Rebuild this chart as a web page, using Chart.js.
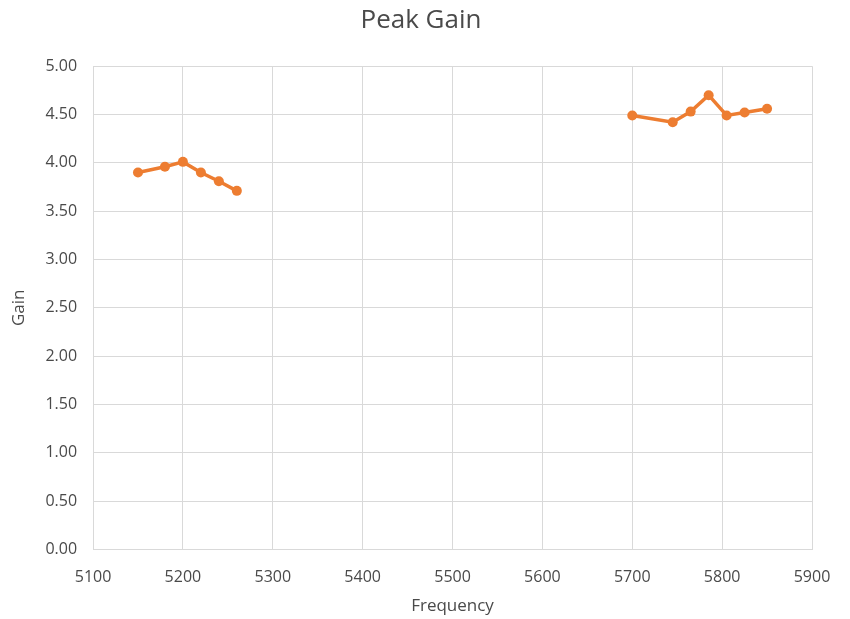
<!DOCTYPE html>
<html>
<head>
<meta charset="utf-8">
<script src="https://cdn.jsdelivr.net/npm/chart.js@4"></script>
<style>
  html, body { margin: 0; padding: 0; background: #fff; }
  #wrap { width: 850px; height: 619px; }
</style>
</head>
<body>
<div id="wrap"><canvas id="chart"></canvas></div>
<script>
// Peak gain vs frequency, two bands
const lowFreq = [5150, 5180, 5200, 5220, 5240, 5260];
const lowGain = [3.90, 3.96, 4.01, 3.90, 3.81, 3.71];
const highFreq = [5700, 5745, 5765, 5785, 5805, 5825, 5850];
const highGain = [4.49, 4.42, 4.53, 4.70, 4.49, 4.52, 4.56];

const orange = "#ED7D31";
const textColor = "#4a4a4a";
const gridColor = "#d9d9d9";
const fontFamily = "'Open Sans', 'Liberation Sans', sans-serif";

function toPoints(xs, ys) {
  return xs.map((x, i) => ({ x: x, y: ys[i] }));
}

function band(label, xs, ys) {
  return {
    label: label,
    data: toPoints(xs, ys),
    borderColor: orange,
    backgroundColor: orange,
    borderWidth: 3.5,
    pointRadius: 5,
    pointBorderWidth: 0,
    pointBackgroundColor: orange,
    fill: false,
    tension: 0,
  };
}

const ctx = document.getElementById("chart").getContext("2d");
new Chart(ctx, {
  type: "line",
  data: {
    datasets: [band("5 GHz low", lowFreq, lowGain), band("5 GHz high", highFreq, highGain)],
  },
  options: {
    responsive: true,
    maintainAspectRatio: false,
    animation: false,
    layout: { padding: { left: 6, right: 14, top: 5, bottom: 3 } },
    plugins: {
      legend: { display: false },
      tooltip: { enabled: false },
      title: {
        display: true,
        text: "Peak Gain",
        color: textColor,
        font: { family: fontFamily, size: 26, weight: "normal" },
        padding: { top: 0, bottom: 30 },
      },
    },
    scales: {
      x: {
        type: "linear",
        min: 5100,
        max: 5900,
        grid: { color: gridColor, drawTicks: false },
        border: { color: gridColor },
        ticks: {
          stepSize: 100,
          color: textColor,
          padding: 18,
          font: { family: fontFamily, size: 16 },
          callback: (v) => String(v),
        },
        title: {
          display: true,
          text: "Frequency",
          color: textColor,
          font: { family: fontFamily, size: 17 },
          padding: { top: -9, bottom: 0 },
        },
        afterFit: (scale) => {
          // keep the plot's right edge in from the canvas edge
          scale.paddingRight = 38;
        },
      },
      y: {
        min: 0,
        max: 5,
        grid: { color: gridColor, drawTicks: false },
        border: { color: gridColor },
        ticks: {
          stepSize: 0.5,
          color: textColor,
          padding: 16,
          font: { family: fontFamily, size: 16 },
          callback: (v) => v.toFixed(2),
        },
        title: {
          display: true,
          text: "Gain",
          color: textColor,
          font: { family: fontFamily, size: 17 },
          padding: { top: 3, bottom: 0 },
        },
      },
    },
  },
});
</script>
</body>
</html>
